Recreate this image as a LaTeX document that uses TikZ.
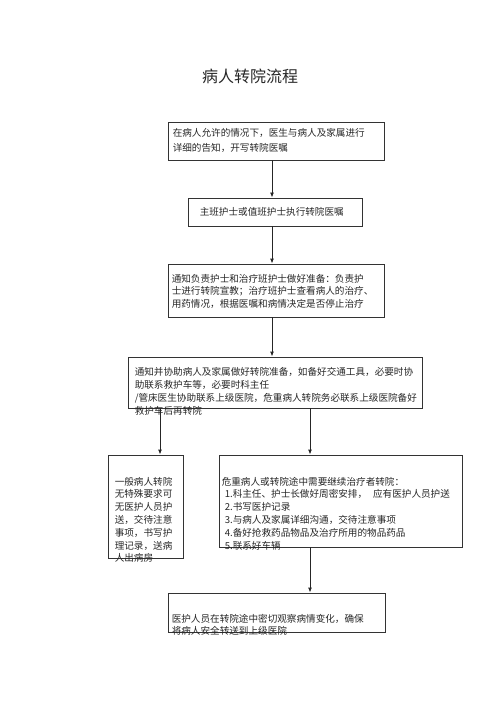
\documentclass[tikz,border=0pt]{standalone}
\usepackage{fontspec}
\newfontfamily\cjk{Noto Sans CJK SC}
\usetikzlibrary{arrows.meta}

\begin{document}
\begin{tikzpicture}[x=1pt,y=-1pt,>={Latex[length=5pt,width=4pt]},
  box/.style={draw=black!80,line width=0.9pt,inner sep=0pt},
  txt/.style={anchor=north west,inner sep=0pt,align=left,text=black!85,
  font=\cjk\fontsize{9.6}{12.8}\selectfont}]
\useasboundingbox (0,0) rectangle (500,708);
\node[font=\cjk\fontsize{16}{18}\selectfont,text=black!85] (title) at (250,76) {病人转院流程};
% boxes
\node[box,minimum width=216pt,minimum height=38pt] (tell) at (276,141) {};
\node[box,minimum width=174pt,minimum height=28pt] (exec) at (275,212) {};
\node[box,minimum width=216pt,minimum height=53pt] (prep) at (276,290.5) {};
\node[box,minimum width=294pt,minimum height=51pt] (notify) at (275,382.5) {};
\node[box,minimum width=75pt,minimum height=103pt] (common) at (145.5,506.5) {};
\node[box,minimum width=243pt,minimum height=92pt] (severe) at (340.5,501) {};
\node[box,minimum width=217pt,minimum height=39pt] (escort) at (276.5,612.5) {};
% texts
\node[txt,font=\cjk\fontsize{9.6}{14.5}\selectfont] (tellt) at ([shift={(5pt,-6.75pt)}]tell.north west)
  {在病人允许的情况下，医生与病人及家属进行\\详细的告知，开写转院医嘱};
\node[txt] (exect) at ([shift={(12pt,-9.25pt)}]exec.north west) {主班护士或值班护士执行转院医嘱};
\node[txt] (prept) at ([shift={(4pt,-10.25pt)}]prep.north west)
  {通知负责护士和治疗班护士做好准备：负责护\\士进行转院宣教；治疗班护士查看病人的治疗、\\用药情况，根据医嘱和病情决定是否停止治疗};
\node[txt] (notifyt) at ([shift={(7pt,-10.75pt)}]notify.north west)
  {通知并协助病人及家属做好转院准备，如备好交通工具，必要时协\\助联系救护车等，必要时科主任\\/管床医生协助联系上级医院，危重病人转院务必联系上级医院备好\\救护车后再转院};
\node[txt] (commont) at ([shift={(7pt,-22.25pt)}]common.north west)
  {一般病人转院\\无特殊要求可\\无医护人员护\\送，交待注意\\事项，书写护\\理记录，送病\\人出病房};
\node[txt] (severet) at ([shift={(3pt,-22.25pt)}]severe.north west)
  {危重病人或转院途中需要继续治疗者转院：\\
  \hspace{3pt}1.科主任、护士长做好周密安排，\hspace{6pt}应有医护人员护送\\
  \hspace{3pt}2.书写医护记录\\
  \hspace{3pt}3.与病人及家属详细沟通，交待注意事项\\
  \hspace{3pt}4.备好抢救药品物品及治疗所用的物品药品\\
  \hspace{3pt}5.联系好车辆};
\node[txt] (escortt) at ([shift={(4pt,-21.25pt)}]escort.north west)
  {医护人员在转院途中密切观察病情变化，确保\\将病人安全转送到上级医院};
% arrows
\foreach \a/\b/\x in {tell/exec/272,exec/prep/272,prep/notify/272,notify/common/160,notify/severe/310,severe/escort/310}
  \draw[->,line width=0.9pt,black!85] (\a.south -| \x,0) -- (\b.north -| \x,0);
\end{tikzpicture}
\end{document}
